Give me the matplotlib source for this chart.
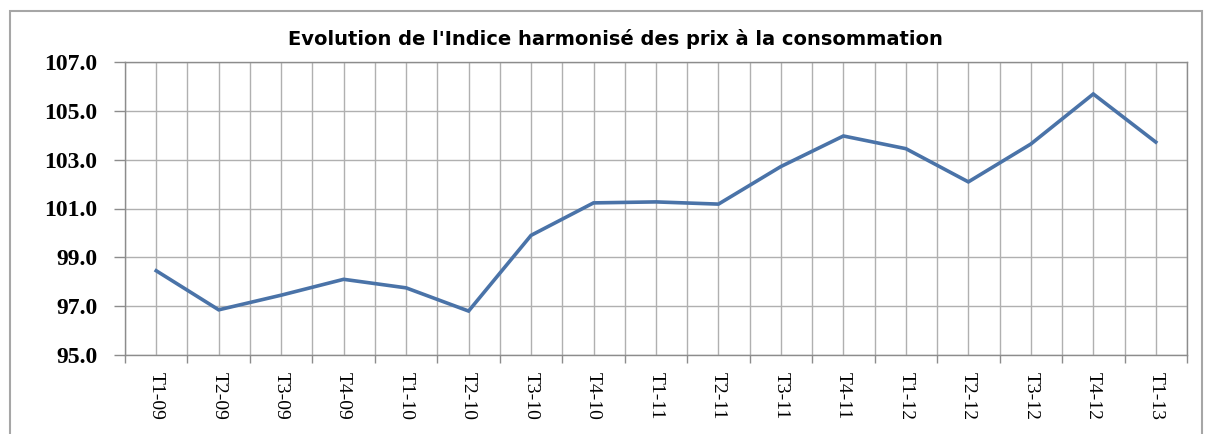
import matplotlib
matplotlib.use("Agg")
import matplotlib.pyplot as plt
from matplotlib.patches import Rectangle
from matplotlib import font_manager as fm
import numpy as np

categories = ["T1-09", "T2-09", "T3-09", "T4-09", "T1-10", "T2-10", "T3-10", "T4-10",
              "T1-11", "T2-11", "T3-11", "T4-11", "T1-12", "T2-12", "T3-12", "T4-12", "T1-13"]
values = [98.45, 96.85, 97.45, 98.1, 97.75, 96.8, 99.9, 101.23,
          101.27, 101.18, 102.72, 103.97, 103.45, 102.09, 103.64, 105.69, 103.72]
yticks = [95.0, 97.0, 99.0, 101.0, 103.0, 105.0, 107.0]
title = "Evolution de l'Indice harmonisé des prix à la consommation"

serif_reg = fm.FontProperties(fname=fm.findfont(fm.FontProperties(family="Liberation Serif")), size=14)
serif_bold = fm.FontProperties(fname=fm.findfont(fm.FontProperties(family="Liberation Serif", weight="bold")), size=17)

W, H = 1205, 434
fig = plt.figure(figsize=(W / 100, H / 100), dpi=100)
fig.patch.set_facecolor("white")

# outer chart frame
fig.patches.append(Rectangle((10 / W, -0.05), (1202 - 10) / W, 1.05 - 11 / H,
                             transform=fig.transFigure, fill=False,
                             edgecolor="#a6a6a6", linewidth=1.5))

ax = fig.add_axes([125 / W, (H - 355) / H, (1187 - 125) / W, (355 - 62) / H])
x = np.arange(len(categories))
ax.plot(x, values, color="#4a73a8", linewidth=2.6, solid_joinstyle="miter")

ax.set_xlim(-0.5, len(categories) - 0.5)
ax.set_ylim(yticks[0], yticks[-1])

ax.set_xticks(x)
ax.set_xticklabels(categories, rotation=270, fontproperties=serif_reg)
ax.set_xticks(np.arange(-0.5, len(categories), 1.0), minor=True)
ax.tick_params(axis="x", which="major", length=0, pad=12)
ax.tick_params(axis="x", which="minor", length=6, direction="out", color="#8c8c8c", width=1)

ax.set_yticks(yticks)
ax.set_yticklabels([f"{v:.1f}" for v in yticks], fontproperties=serif_bold)
ax.tick_params(axis="y", length=8, direction="out", color="#8c8c8c", width=1, pad=12)

ax.grid(True, which="both", axis="x", color="#b0b0b0", linewidth=1)
ax.grid(True, which="major", axis="y", color="#b0b0b0", linewidth=1)
ax.set_axisbelow(True)
for s in ax.spines.values():
    s.set_color("#8c8c8c")
    s.set_linewidth(1)

fig.text(615 / W, 1 - 39 / H, title, ha="center", va="center",
         family="DejaVu Sans", fontweight="bold", fontsize=14)

fig.savefig("out.png", dpi=100, facecolor="white")
